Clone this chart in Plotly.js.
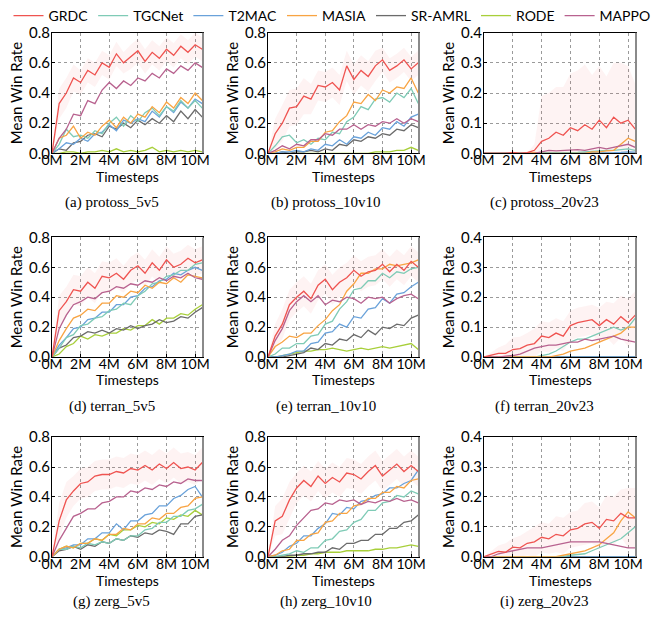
<!DOCTYPE html>
<html><head><meta charset="utf-8">
<script src="https://cdn.plot.ly/plotly-3.0.1.min.js"></script>
<style>html,body{margin:0;padding:0;background:#fff}#chart{width:664px;height:623px}</style>
</head><body><div id="chart"></div>
<script>
// ---------- data ----------
const timesteps = [0,0.5,1,1.5,2,2.5,3,3.5,4,4.5,5,5.5,6,6.5,7,7.5,8,8.5,9,9.5,10,10.5]; // millions
const methods = ['GRDC','TGCNet','T2MAC','MASIA','SR-AMRL','RODE','MAPPO'];
const xTickVals = [0,2,4,6,8,10];
const xTickText = ['0M','2M','4M','6M','8M','10M'];
const captions = ['(a) protoss_5v5','(b) protoss_10v10','(c) protoss_20v23','(d) terran_5v5','(e) terran_10v10','(f) terran_20v23','(g) zerg_5v5','(h) zerg_10v10','(i) zerg_20v23'];
const yMax = [0.8,0.8,0.4,0.8,0.8,0.4,0.8,0.8,0.4];

// (a) protoss_5v5
const protoss5_GRDC   = [0,0.33,0.40,0.50,0.47,0.55,0.52,0.60,0.57,0.66,0.60,0.64,0.68,0.61,0.67,0.63,0.69,0.65,0.71,0.67,0.72,0.69];
const protoss5_TGCNet = [0,0.06,0.16,0.11,0.12,0.10,0.15,0.13,0.20,0.24,0.18,0.25,0.21,0.27,0.30,0.25,0.31,0.28,0.35,0.30,0.35,0.30];
const protoss5_T2MAC  = [0,0.03,0.07,0.06,0.10,0.08,0.13,0.14,0.19,0.15,0.22,0.20,0.23,0.21,0.28,0.24,0.31,0.27,0.34,0.30,0.36,0.33];
const protoss5_MASIA  = [0,0.10,0.12,0.18,0.10,0.14,0.12,0.18,0.22,0.17,0.24,0.20,0.26,0.24,0.31,0.27,0.34,0.30,0.37,0.33,0.40,0.35];
const protoss5_SRAMRL = [0,0.03,0.02,0.07,0.08,0.12,0.13,0.11,0.18,0.16,0.20,0.17,0.22,0.19,0.23,0.20,0.25,0.21,0.28,0.23,0.29,0.24];
const protoss5_RODE   = [0,0.00,0.01,0.01,0.00,0.01,0.01,0.02,0.01,0.03,0.01,0.02,0.01,0.02,0.04,0.01,0.02,0.01,0.02,0.01,0.02,0.01];
const protoss5_MAPPO  = [0,0.10,0.16,0.26,0.25,0.35,0.33,0.42,0.47,0.43,0.48,0.45,0.50,0.48,0.53,0.50,0.56,0.53,0.58,0.55,0.60,0.57];
const protoss5_GRDC_std = [0,0.10,0.10,0.09,0.08,0.08,0.08,0.08,0.08,0.08,0.07,0.08,0.08,0.08,0.08,0.08,0.08,0.08,0.08,0.08,0.08,0.08];

// (b) protoss_10v10
const protoss10_GRDC   = [0,0.13,0.20,0.30,0.31,0.38,0.36,0.45,0.44,0.47,0.42,0.58,0.49,0.55,0.51,0.58,0.62,0.55,0.58,0.62,0.56,0.60];
const protoss10_TGCNet = [0,0.05,0.11,0.12,0.07,0.09,0.06,0.10,0.09,0.14,0.13,0.21,0.24,0.31,0.29,0.36,0.37,0.34,0.40,0.37,0.43,0.33];
const protoss10_T2MAC  = [0,0.00,0.01,0.01,0.02,0.01,0.03,0.02,0.06,0.05,0.09,0.06,0.11,0.10,0.14,0.12,0.17,0.16,0.21,0.18,0.24,0.26];
const protoss10_MASIA  = [0,0.01,0.03,0.02,0.04,0.04,0.08,0.08,0.14,0.15,0.21,0.25,0.34,0.33,0.39,0.35,0.42,0.40,0.44,0.43,0.50,0.40];
const protoss10_SRAMRL = [0,0.00,0.01,0.00,0.01,0.01,0.02,0.01,0.03,0.02,0.06,0.05,0.09,0.08,0.11,0.10,0.13,0.12,0.16,0.15,0.19,0.17];
const protoss10_RODE   = [0,0,0,0,0,0,0,0,0,0,0,0,0,0,0,0.01,0.01,0.01,0.02,0.02,0.04,0.02];
const protoss10_MAPPO  = [0,0.02,0.05,0.03,0.06,0.05,0.09,0.09,0.13,0.12,0.16,0.16,0.19,0.16,0.19,0.18,0.21,0.20,0.23,0.20,0.23,0.21];
const protoss10_GRDC_std = [0,0.10,0.12,0.12,0.12,0.12,0.10,0.10,0.10,0.10,0.10,0.10,0.10,0.10,0.10,0.10,0.08,0.08,0.08,0.08,0.08,0.08];

// (c) protoss_20v23
const protoss20_GRDC   = [0,0,0,0,0.003,0,0.002,0.01,0.04,0.05,0.07,0.06,0.085,0.075,0.095,0.08,0.11,0.085,0.12,0.10,0.11,0.08];
const protoss20_TGCNet = [0,0,0,0,0,0,0,0,0,0,0,0,0.002,0.003,0.005,0.005,0.008,0.01,0.01,0.012,0.015,0.01];
const protoss20_T2MAC  = [0,0,0,0,0,0,0,0,0,0,0,0,0,0,0,0,0,0,0.002,0.003,0.005,0.004];
const protoss20_MASIA  = [0,0,0,0,0,0,0,0.003,0,0,0,0,0,0,0,0.005,0.005,0.008,0.01,0.03,0.05,0.04];
const protoss20_SRAMRL = [0,0,0,0,0,0,0,0,0,0,0,0,0,0,0,0,0,0,0,0,0,0];
const protoss20_RODE   = [0,0,0,0,0,0,0,0,0,0,0,0,0,0,0,0,0,0,0,0,0,0];
const protoss20_MAPPO  = [0,0,0,0,0,0,0,0,0.005,0.01,0.008,0.01,0.01,0.012,0.01,0.015,0.02,0.015,0.02,0.025,0.03,0.02];
const protoss20_GRDC_std = [0,0,0,0,0,0.005,0,0.02,0.15,0.15,0.15,0.16,0.18,0.20,0.20,0.18,0.18,0.17,0.18,0.20,0.18,0.15];

// (d) terran_5v5
const terran5_GRDC   = [0,0.31,0.37,0.45,0.44,0.50,0.46,0.54,0.53,0.56,0.52,0.58,0.61,0.56,0.63,0.58,0.65,0.60,0.62,0.66,0.63,0.65];
const terran5_TGCNet = [0,0.06,0.13,0.15,0.21,0.22,0.26,0.27,0.31,0.32,0.36,0.35,0.41,0.44,0.49,0.50,0.54,0.55,0.58,0.58,0.62,0.63];
const terran5_T2MAC  = [0,0.08,0.13,0.19,0.20,0.25,0.26,0.30,0.30,0.35,0.35,0.40,0.41,0.46,0.47,0.51,0.52,0.56,0.55,0.58,0.60,0.58];
const terran5_MASIA  = [0,0.11,0.19,0.26,0.28,0.32,0.31,0.36,0.36,0.41,0.40,0.44,0.43,0.48,0.46,0.50,0.49,0.53,0.50,0.55,0.54,0.53];
const terran5_SRAMRL = [0,0.06,0.08,0.13,0.14,0.17,0.16,0.18,0.16,0.19,0.18,0.21,0.19,0.21,0.22,0.25,0.23,0.24,0.27,0.26,0.30,0.33];
const terran5_RODE   = [0,0.02,0.07,0.09,0.14,0.12,0.15,0.14,0.16,0.16,0.19,0.18,0.21,0.21,0.25,0.22,0.26,0.26,0.29,0.28,0.32,0.35];
const terran5_MAPPO  = [0,0.19,0.28,0.35,0.37,0.40,0.39,0.43,0.44,0.47,0.46,0.49,0.48,0.51,0.50,0.53,0.51,0.54,0.53,0.56,0.53,0.52];
const terran5_GRDC_std = [0,0.10,0.10,0.10,0.10,0.10,0.10,0.10,0.10,0.10,0.09,0.09,0.09,0.09,0.09,0.09,0.09,0.09,0.09,0.09,0.09,0.09];

// (e) terran_10v10
const terran10_GRDC   = [0,0.14,0.22,0.35,0.40,0.44,0.39,0.48,0.52,0.45,0.50,0.53,0.58,0.54,0.57,0.58,0.62,0.57,0.62,0.58,0.64,0.60];
const terran10_TGCNet = [0,0.02,0.06,0.06,0.09,0.09,0.14,0.15,0.22,0.24,0.32,0.37,0.45,0.46,0.51,0.51,0.56,0.53,0.57,0.56,0.59,0.60];
const terran10_T2MAC  = [0,0.00,0.01,0.02,0.04,0.04,0.09,0.10,0.16,0.17,0.22,0.20,0.27,0.26,0.32,0.33,0.39,0.36,0.42,0.43,0.47,0.50];
const terran10_MASIA  = [0,0.07,0.10,0.14,0.13,0.16,0.16,0.21,0.25,0.31,0.35,0.44,0.49,0.56,0.56,0.59,0.59,0.62,0.61,0.62,0.63,0.65];
const terran10_SRAMRL = [0,0.00,0.00,0.01,0.02,0.03,0.06,0.05,0.09,0.08,0.12,0.11,0.15,0.13,0.18,0.15,0.20,0.19,0.22,0.21,0.26,0.28];
const terran10_RODE   = [0,0.00,0.01,0.02,0.03,0.04,0.04,0.05,0.05,0.06,0.05,0.04,0.05,0.06,0.05,0.06,0.07,0.06,0.07,0.08,0.09,0.05];
const terran10_MAPPO  = [0,0.11,0.19,0.31,0.37,0.41,0.37,0.41,0.35,0.38,0.37,0.40,0.39,0.36,0.40,0.39,0.40,0.36,0.39,0.41,0.42,0.39];
const terran10_GRDC_std = [0,0.08,0.10,0.10,0.10,0.10,0.10,0.10,0.10,0.10,0.10,0.10,0.10,0.10,0.10,0.10,0.10,0.10,0.10,0.10,0.10,0.10];

// (f) terran_20v23
const terran20_GRDC   = [0,0.005,0.012,0.012,0.025,0.028,0.04,0.045,0.07,0.065,0.08,0.07,0.105,0.115,0.12,0.125,0.105,0.125,0.11,0.135,0.115,0.14];
const terran20_TGCNet = [0,0,0,0,0,0,0,0,0.005,0.01,0.02,0.035,0.05,0.06,0.06,0.07,0.08,0.09,0.10,0.09,0.10,0.13];
const terran20_T2MAC  = [0,0,0,0,0,0,0,0,0,0,0,0,0,0,0,0,0,0,0,0,0,0];
const terran20_MASIA  = [0,0,0,0,0,0,0,0,0,0,0.005,0.01,0.02,0.025,0.03,0.04,0.05,0.06,0.07,0.08,0.10,0.10];
const terran20_SRAMRL = [0,0,0,0,0,0,0,0,0,0,0,0,0,0,0,0,0,0,0,0,0,0];
const terran20_RODE   = [0,0,0,0,0,0,0,0,0,0,0,0,0,0,0,0,0,0,0,0,0,0];
const terran20_MAPPO  = [0,0,0,0.003,0.005,0.01,0.02,0.03,0.035,0.04,0.04,0.045,0.05,0.05,0.06,0.055,0.06,0.065,0.07,0.06,0.055,0.05];
const terran20_GRDC_std = [0,0.01,0.02,0.03,0.04,0.04,0.04,0.05,0.05,0.05,0.05,0.05,0.05,0.05,0.05,0.05,0.06,0.06,0.07,0.07,0.08,0.08];

// (g) zerg_5v5
const zerg5_GRDC   = [0,0.24,0.38,0.44,0.49,0.50,0.54,0.55,0.55,0.57,0.56,0.59,0.58,0.61,0.58,0.62,0.59,0.63,0.59,0.60,0.58,0.63];
const zerg5_TGCNet = [0,0.05,0.05,0.07,0.06,0.09,0.08,0.10,0.09,0.12,0.11,0.14,0.14,0.18,0.19,0.23,0.23,0.27,0.27,0.31,0.32,0.35];
const zerg5_T2MAC  = [0,0.05,0.06,0.08,0.08,0.12,0.12,0.16,0.16,0.22,0.18,0.24,0.24,0.28,0.29,0.34,0.34,0.39,0.41,0.45,0.47,0.40];
const zerg5_MASIA  = [0,0.05,0.07,0.06,0.09,0.09,0.12,0.11,0.15,0.15,0.19,0.18,0.22,0.22,0.26,0.25,0.29,0.29,0.33,0.34,0.39,0.40];
const zerg5_SRAMRL = [0,0.04,0.05,0.07,0.05,0.08,0.07,0.10,0.09,0.12,0.11,0.14,0.13,0.16,0.15,0.18,0.17,0.15,0.22,0.22,0.27,0.28];
const zerg5_RODE   = [0,0.05,0.07,0.06,0.09,0.09,0.12,0.11,0.15,0.14,0.18,0.18,0.21,0.20,0.23,0.22,0.26,0.25,0.28,0.27,0.31,0.28];
const zerg5_MAPPO  = [0,0.11,0.19,0.27,0.29,0.32,0.32,0.36,0.37,0.40,0.40,0.44,0.43,0.46,0.45,0.48,0.47,0.50,0.49,0.52,0.51,0.51];
const zerg5_GRDC_std = [0,0.12,0.12,0.10,0.10,0.10,0.10,0.10,0.10,0.10,0.10,0.10,0.10,0.10,0.10,0.10,0.10,0.10,0.10,0.10,0.10,0.10];

// (h) zerg_10v10
const zerg10_GRDC   = [0,0.24,0.27,0.38,0.46,0.51,0.47,0.54,0.49,0.53,0.50,0.56,0.55,0.52,0.57,0.61,0.54,0.58,0.62,0.57,0.61,0.57];
const zerg10_TGCNet = [0,0.00,0.01,0.02,0.04,0.03,0.06,0.06,0.11,0.12,0.17,0.18,0.23,0.25,0.31,0.31,0.36,0.37,0.41,0.40,0.44,0.42];
const zerg10_T2MAC  = [0,0.01,0.03,0.07,0.09,0.14,0.14,0.19,0.22,0.29,0.28,0.33,0.32,0.37,0.38,0.41,0.42,0.46,0.46,0.49,0.51,0.58];
const zerg10_MASIA  = [0,0.01,0.04,0.05,0.11,0.11,0.15,0.16,0.23,0.24,0.29,0.29,0.34,0.35,0.39,0.39,0.43,0.43,0.47,0.46,0.51,0.52];
const zerg10_SRAMRL = [0,0.00,0.00,0.01,0.01,0.02,0.02,0.03,0.03,0.06,0.05,0.09,0.09,0.11,0.11,0.15,0.15,0.19,0.19,0.23,0.24,0.28];
const zerg10_RODE   = [0,0,0,0,0.01,0.01,0.02,0.02,0.03,0.03,0.03,0.04,0.04,0.04,0.04,0.05,0.05,0.06,0.06,0.07,0.08,0.07];
const zerg10_MAPPO  = [0,0.05,0.11,0.14,0.21,0.26,0.31,0.32,0.36,0.35,0.38,0.37,0.38,0.35,0.37,0.36,0.38,0.37,0.39,0.37,0.38,0.36];
const zerg10_GRDC_std = [0,0.10,0.12,0.12,0.10,0.10,0.10,0.10,0.10,0.10,0.10,0.10,0.10,0.10,0.10,0.10,0.10,0.10,0.10,0.10,0.10,0.10];

// (i) zerg_20v23
const zerg20_GRDC   = [0,0.01,0.018,0.015,0.032,0.03,0.045,0.05,0.065,0.06,0.075,0.07,0.09,0.095,0.11,0.115,0.095,0.125,0.12,0.145,0.13,0.13];
const zerg20_TGCNet = [0,0,0,0,0,0,0,0,0,0,0,0,0.005,0.008,0.01,0.02,0.03,0.04,0.05,0.06,0.08,0.10];
const zerg20_T2MAC  = [0,0,0,0,0,0,0,0,0,0,0,0,0,0,0,0,0,0,0,0,0,0];
const zerg20_MASIA  = [0,0,0,0,0,0,0,0,0,0,0,0.005,0.01,0.015,0.02,0.03,0.04,0.06,0.08,0.12,0.15,0.13];
const zerg20_SRAMRL = [0,0,0,0,0,0,0,0,0,0,0,0,0,0,0,0,0,0,0,0,0,0];
const zerg20_RODE   = [0,0,0,0,0,0,0,0,0,0,0,0,0,0,0,0,0,0,0,0,0,0];
const zerg20_MAPPO  = [0,0,0.01,0.015,0.02,0.025,0.03,0.03,0.03,0.035,0.04,0.045,0.05,0.05,0.05,0.05,0.05,0.045,0.04,0.035,0.03,0.03];
const zerg20_GRDC_std = [0,0.01,0.02,0.03,0.03,0.04,0.04,0.05,0.05,0.05,0.06,0.06,0.06,0.06,0.07,0.07,0.07,0.08,0.08,0.08,0.10,0.10];

// ---------- assembly ----------
const panels = [
  [protoss5_GRDC,protoss5_TGCNet,protoss5_T2MAC,protoss5_MASIA,protoss5_SRAMRL,protoss5_RODE,protoss5_MAPPO],
  [protoss10_GRDC,protoss10_TGCNet,protoss10_T2MAC,protoss10_MASIA,protoss10_SRAMRL,protoss10_RODE,protoss10_MAPPO],
  [protoss20_GRDC,protoss20_TGCNet,protoss20_T2MAC,protoss20_MASIA,protoss20_SRAMRL,protoss20_RODE,protoss20_MAPPO],
  [terran5_GRDC,terran5_TGCNet,terran5_T2MAC,terran5_MASIA,terran5_SRAMRL,terran5_RODE,terran5_MAPPO],
  [terran10_GRDC,terran10_TGCNet,terran10_T2MAC,terran10_MASIA,terran10_SRAMRL,terran10_RODE,terran10_MAPPO],
  [terran20_GRDC,terran20_TGCNet,terran20_T2MAC,terran20_MASIA,terran20_SRAMRL,terran20_RODE,terran20_MAPPO],
  [zerg5_GRDC,zerg5_TGCNet,zerg5_T2MAC,zerg5_MASIA,zerg5_SRAMRL,zerg5_RODE,zerg5_MAPPO],
  [zerg10_GRDC,zerg10_TGCNet,zerg10_T2MAC,zerg10_MASIA,zerg10_SRAMRL,zerg10_RODE,zerg10_MAPPO],
  [zerg20_GRDC,zerg20_TGCNet,zerg20_T2MAC,zerg20_MASIA,zerg20_SRAMRL,zerg20_RODE,zerg20_MAPPO]
];
const grdcStd = [protoss5_GRDC_std,protoss10_GRDC_std,protoss20_GRDC_std,terran5_GRDC_std,terran10_GRDC_std,terran20_GRDC_std,zerg5_GRDC_std,zerg10_GRDC_std,zerg20_GRDC_std];

const colors = ['#ef5350','#7fcbb6','#6aa2da','#f8a443','#6b6b6b','#a8cf3a','#b8628f'];
const drawOrder = [5,4,2,1,3,6,0]; // GRDC drawn last (on top)

const W = 664, H = 623;
const colPx = [[52,203],[268,419],[484,636]];
const rowPx = [[26,148],[233,354],[435,556]];
const capX = [112,326,544];
const capY = [198,404,601];
const xTitleY = [171,377,580];

const FONT = 'Lato, "Open Sans", sans-serif';
const traces = [];
const layout = {
  width: W, height: H, margin: {l:0,r:0,t:0,b:0},
  paper_bgcolor: '#fff', plot_bgcolor: '#fff',
  showlegend: true,
  legend: {orientation:'h', x:0.5, xanchor:'center', y:1.012, yanchor:'top',
           font:{family:FONT,size:14,color:'#000'}, itemwidth:30, tracegroupgap:0,
           bgcolor:'rgba(0,0,0,0)', traceorder:'normal'},
  annotations: [], shapes: []
};

panels.forEach((series, k) => {
  const r = Math.floor(k/3), c = k%3;
  const xa = 'x' + (k+1), ya = 'y' + (k+1);
  const axX = 'xaxis' + (k+1), axY = 'yaxis' + (k+1);
  // GRDC band
  const lo = series[0].map((v,i) => Math.max(0, v - grdcStd[k][i]));
  const hi = series[0].map((v,i) => Math.min(yMax[k], v + grdcStd[k][i]));
  traces.push({x:timesteps, y:lo, xaxis:xa, yaxis:ya, mode:'lines', line:{width:0,color:'rgba(0,0,0,0)'}, showlegend:false, hoverinfo:'skip'});
  traces.push({x:timesteps, y:hi, xaxis:xa, yaxis:ya, mode:'lines', line:{width:0,color:'rgba(0,0,0,0)'}, fill:'tonexty', fillcolor:'rgba(239,83,80,0.07)', showlegend:false, hoverinfo:'skip'});
  drawOrder.forEach(m => {
    traces.push({x:timesteps, y:series[m], xaxis:xa, yaxis:ya, mode:'lines', name:methods[m],
      line:{color:colors[m], width:1.3}, showlegend:k===0, legendrank:m+1, legendgroup:methods[m]});
  });
  const ticksY = yMax[k] > 0.5 ? [0,0.2,0.4,0.6,0.8] : [0,0.1,0.2,0.3,0.4];
  const common = {showgrid:true, gridcolor:'#9a9a9a', griddash:'dot', gridwidth:1,
    showline:true, linecolor:'#000', linewidth:1, mirror:true, ticks:'inside', ticklen:3, tickcolor:'#000',
    zeroline:false};
  layout[axX] = Object.assign({}, common, {
    domain:[colPx[c][0]/W, colPx[c][1]/W], anchor:ya, range:[0,10.55],
    tickvals:xTickVals, ticktext:xTickText, tickangle:0, ticklabelstandoff:-6,
    tickfont:{family:FONT,size:14,color:'#000'}
  });
  layout[axY] = Object.assign({}, common, {
    domain:[1-rowPx[r][1]/H, 1-rowPx[r][0]/H], anchor:xa, range:[0,yMax[k]],
    tickvals:ticksY, ticktext:ticksY.map(v=>v.toFixed(1)), ticklabelstandoff:-2,
    tickfont:{family:FONT,size:15,color:'#000'},
    title:{text:'Mean Win Rate', font:{family:FONT,size:15,color:'#000'}, standoff:2}
  });
  layout.shapes.push({type:'line', xref:xa+' domain', yref:ya+' domain', x0:1, x1:1, y0:0, y1:1, line:{color:'#8a8a8a', width:2}});
  layout.annotations.push({text:'Timesteps', xref:'paper', yref:'paper', x:(colPx[c][0]+colPx[c][1])/2/W, y:1-xTitleY[r]/H,
    xanchor:'center', yanchor:'middle', showarrow:false, font:{family:FONT, size:14, color:'#000'}});
  layout.annotations.push({text:captions[k], xref:'paper', yref:'paper', x:capX[c]/W, y:1-capY[r]/H,
    xanchor:'center', yanchor:'middle', showarrow:false, font:{family:'"Liberation Serif","Times New Roman",serif', size:15, color:'#000'}});
});

Plotly.newPlot('chart', traces, layout, {displayModeBar:false, staticPlot:true});
</script></body></html>
